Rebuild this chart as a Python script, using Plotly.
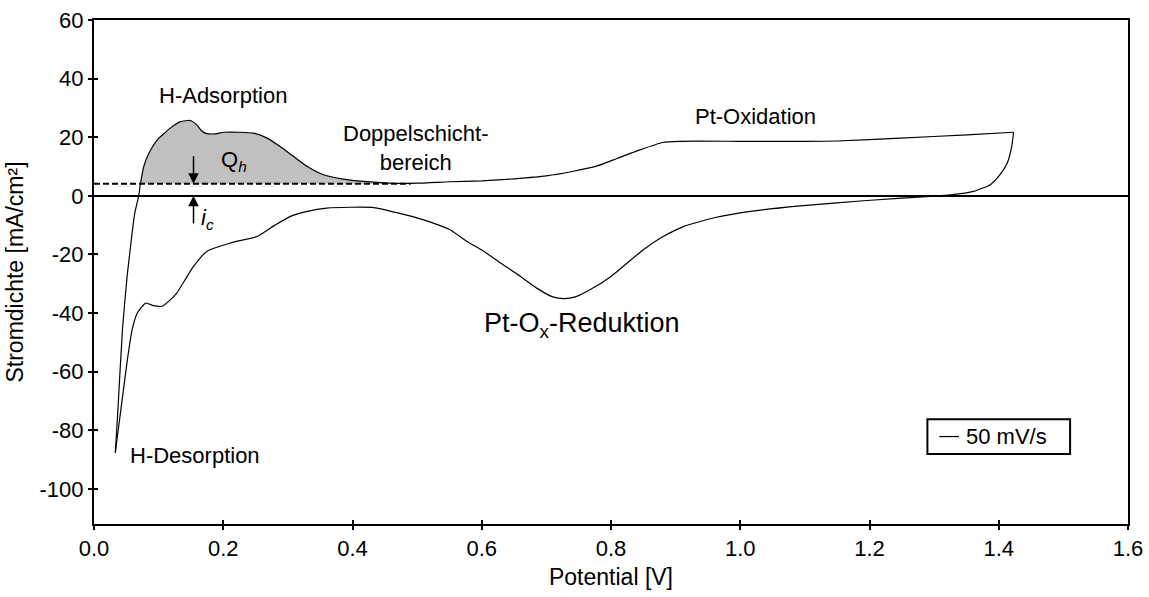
import plotly.graph_objects as go

# Anodic sweep (upper branch), potential [V] and current density [mA/cm²]
anodic_v = [0.033, 0.037, 0.044, 0.051, 0.058, 0.063, 0.069, 0.072, 0.077, 0.085,
            0.098, 0.118, 0.134, 0.149, 0.159, 0.166, 0.172, 0.185, 0.201, 0.226,
            0.247, 0.268, 0.288, 0.309, 0.330, 0.355, 0.386, 0.417, 0.458, 0.500,
            0.550, 0.600, 0.650, 0.700, 0.740, 0.780, 0.810, 0.845, 0.880, 0.907,
            1.000, 1.093, 1.150, 1.248, 1.351, 1.423]
anodic_i = [-87.7, -73.0, -45.7, -28.0, -14.5, -6.0, -0.2, 4.3, 10.0, 14.5,
            19.1, 23.1, 25.3, 25.7, 24.2, 22.3, 21.4, 21.1, 21.7, 21.7,
            21.4, 19.7, 16.8, 13.4, 10.0, 7.2, 5.7, 4.9, 4.3, 4.3,
            4.8, 5.1, 5.8, 6.8, 8.3, 10.3, 12.8, 15.7, 18.2, 18.6,
            18.6, 18.6, 18.7, 19.7, 20.8, 21.7]

# Cathodic sweep (lower branch)
cathodic_v = [1.423, 1.420, 1.413, 1.402, 1.387, 1.361, 1.325, 1.294, 1.196, 1.093,
              1.016, 0.960, 0.912, 0.880, 0.850, 0.800, 0.768, 0.745, 0.727, 0.710,
              0.685, 0.660, 0.629, 0.600, 0.577, 0.551, 0.510, 0.470, 0.433, 0.397,
              0.360, 0.330, 0.304, 0.280, 0.252, 0.211, 0.175, 0.154, 0.140, 0.128,
              0.118, 0.105, 0.092, 0.080, 0.067, 0.059, 0.051, 0.041, 0.0355, 0.033]
cathodic_i = [21.7, 16.8, 11.1, 7.2, 3.8, 1.5, 0.3, -0.2, -1.6, -3.4,
              -5.3, -7.5, -10.5, -14.0, -18.4, -27.5, -32.0, -34.5, -35.1, -34.5,
              -31.5, -27.5, -22.9, -18.5, -15.6, -11.6, -8.2, -5.8, -4.0, -3.9,
              -4.2, -5.3, -7.0, -10.0, -13.9, -16.1, -18.9, -24.1, -29.0, -33.2,
              -35.5, -37.7, -37.5, -36.6, -40.0, -45.7, -57.0, -74.0, -83.2, -87.7]

# Capacitive baseline (double layer current)
baseline_i = 4.1
baseline_v = [0.0, 0.49]
qh_range = [0.072, 0.458]

series_name = "50 mV/s"
x_ticks = [0.0, 0.2, 0.4, 0.6, 0.8, 1.0, 1.2, 1.4, 1.6]
y_ticks = [60, 40, 20, 0, -20, -40, -60, -80, -100]

FONT = "Liberation Sans, Arial, sans-serif"

fig = go.Figure()

# Shaded hydrogen adsorption charge area
sel = [(v, i) for v, i in zip(anodic_v, anodic_i) if qh_range[0] <= v <= qh_range[1]]
fill_x = [p[0] for p in sel] + [sel[-1][0], sel[0][0]]
fill_y = [p[1] for p in sel] + [baseline_i, baseline_i]
fig.add_trace(go.Scatter(x=fill_x, y=fill_y, mode="lines", fill="toself",
                         fillcolor="#c0c0c0", line=dict(width=0),
                         showlegend=False, hoverinfo="skip"))

# dashed baseline
fig.add_trace(go.Scatter(x=baseline_v, y=[baseline_i, baseline_i], mode="lines",
                         line=dict(color="black", width=2, dash="6px,3px"),
                         showlegend=False, hoverinfo="skip"))

fig.add_trace(go.Scatter(x=anodic_v, y=anodic_i, mode="lines", name=series_name,
                         showlegend=False,
                         line=dict(color="black", width=1.2, shape="spline", smoothing=0.5)))
fig.add_trace(go.Scatter(x=cathodic_v, y=cathodic_i, mode="lines", name=series_name,
                         showlegend=False,
                         line=dict(color="black", width=1.2, shape="spline", smoothing=0.5)))

# dummy trace for the inner-tick overlay axes
fig.add_trace(go.Scatter(x=[None], y=[None], xaxis="x2", yaxis="y2",
                         showlegend=False, hoverinfo="skip"))

ann_font = dict(family=FONT, size=22, color="black")
annotations = [
    dict(x=0.199, y=34.4, text="H-Adsorption"),
    dict(x=0.499, y=16.4, text="Doppelschicht-<br>bereich"),
    dict(x=1.024, y=26.9, text="Pt-Oxidation"),
    dict(x=0.755, y=-44.0, text="Pt-O<sub>x</sub>-Reduktion", font=dict(family=FONT, size=27, color="black")),
    dict(x=0.156, y=-88.6, text="H-Desorption"),
    dict(x=0.216, y=12.0, text="Q<sub><i>h</i></sub>"),
    dict(x=0.176, y=-8.0, text="<i>i</i><sub><i>c</i></sub>"),
]
for a in annotations:
    d = dict(xref="x", yref="y", showarrow=False, font=ann_font,
             xanchor="center", yanchor="middle", align="center")
    d.update(a)
    fig.add_annotation(**d)

# arrows indicating Qh baseline and ic
arrow_x = 0.154
fig.add_annotation(x=arrow_x, y=baseline_i, ax=arrow_x, ay=14.0, xref="x", yref="y",
                   axref="x", ayref="y", text="", showarrow=True, arrowhead=2,
                   arrowsize=1.4, arrowwidth=1.5, arrowcolor="black", standoff=0)
fig.add_annotation(x=arrow_x, y=0, ax=arrow_x, ay=-10.0, xref="x", yref="y",
                   axref="x", ayref="y", text="", showarrow=True, arrowhead=2,
                   arrowsize=1.4, arrowwidth=1.5, arrowcolor="black", standoff=0)

# legend box (drawn manually to match the compact framed legend)
fig.add_shape(type="rect", xref="paper", yref="paper", x0=0.806, x1=0.944, y0=0.139, y1=0.208,
              line=dict(color="black", width=2), fillcolor="white", layer="above")
fig.add_shape(type="line", xref="paper", yref="paper", x0=0.8175, x1=0.8365, y0=0.1735, y1=0.1735,
              line=dict(color="black", width=1.2), layer="above")
fig.add_annotation(xref="paper", yref="paper", x=0.8415, y=0.1735, text=series_name,
                   showarrow=False, xanchor="left", yanchor="middle", font=ann_font)

title_font = dict(family=FONT, size=23, color="black")
axis_common = dict(showgrid=False, color="black")
fig.update_layout(
    width=1149, height=597,
    margin=dict(l=93.5, r=20.5, t=20, b=73, autoexpand=False),
    paper_bgcolor="white", plot_bgcolor="white",
    font=dict(family=FONT, size=22, color="black"),
    showlegend=False,
    xaxis=dict(range=[0, 1.6], tickvals=x_ticks, ticktext=[f"{v:.1f}" for v in x_ticks],
               ticks="outside", ticklen=4, tickwidth=2, tickcolor="black",
               tickfont=dict(family=FONT, size=22, color="black"),
               showline=True, linewidth=2, linecolor="black", mirror=True,
               zeroline=False, title=dict(text="Potential [V]", standoff=8, font=title_font),
               **axis_common),
    yaxis=dict(range=[-112, 60], tickvals=y_ticks, ticktext=[str(v) for v in y_ticks],
               ticks="outside", ticklen=4, tickwidth=2, tickcolor="black",
               tickfont=dict(family=FONT, size=22, color="black"),
               showline=True, linewidth=2, linecolor="black", mirror=True,
               zeroline=True, zerolinecolor="black", zerolinewidth=2,
               title=dict(text="Stromdichte [mA/cm²]", standoff=10, font=title_font),
               **axis_common),
    xaxis2=dict(range=[0, 1.6], overlaying="x", anchor="y2", side="bottom",
                tickvals=x_ticks, ticks="inside", ticklen=4, tickwidth=2, tickcolor="black",
                showticklabels=False, showline=False, zeroline=False, showgrid=False),
    yaxis2=dict(range=[-112, 60], overlaying="y", anchor="x2", side="left",
                tickvals=y_ticks, ticks="inside", ticklen=4, tickwidth=2, tickcolor="black",
                showticklabels=False, showline=False, zeroline=False, showgrid=False),
)

fig.write_html("out.html")
